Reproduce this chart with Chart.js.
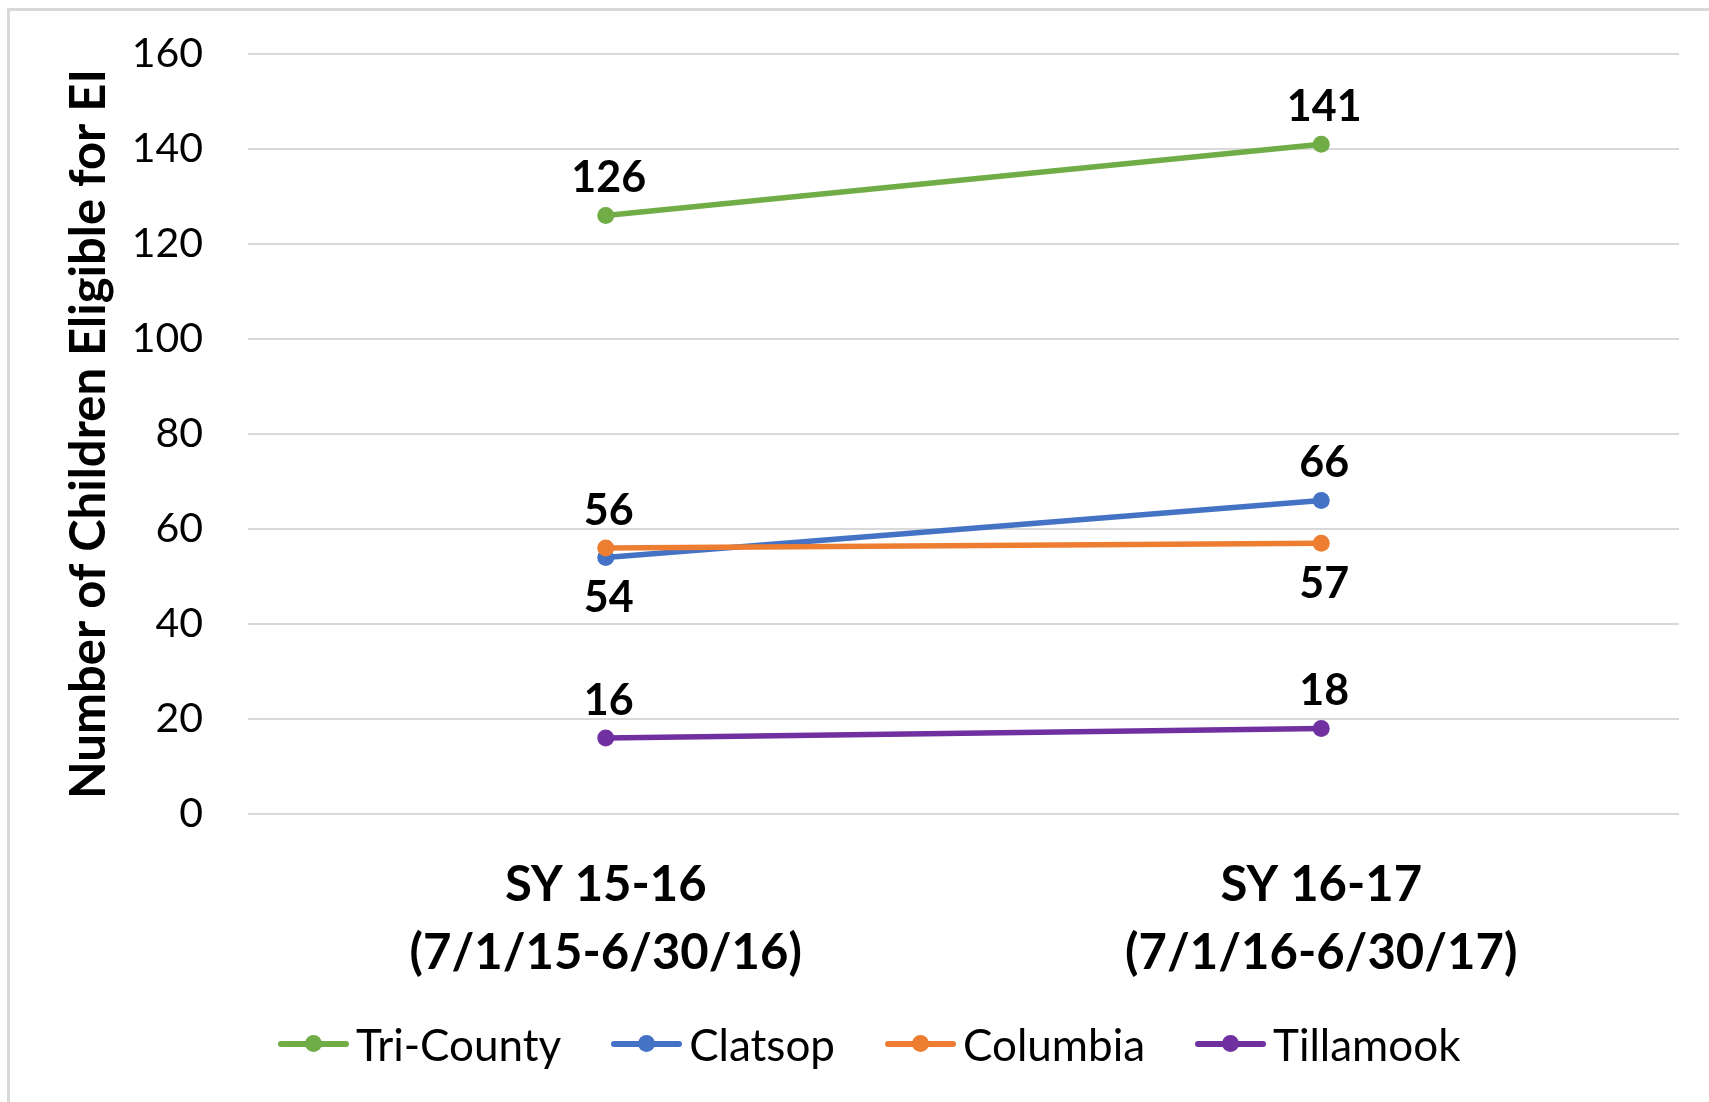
<!DOCTYPE html>
<html>
<head>
<meta charset="utf-8">
<script src="https://cdn.jsdelivr.net/npm/chart.js@4.4.1/dist/chart.umd.min.js"></script>
<style>
  html, body { margin: 0; padding: 0; background: #fff; }
  #wrap { position: relative; width: 1709px; height: 1102px; overflow: hidden; }
  #frame { position: absolute; left: 7px; top: 8px; right: -10px; bottom: -10px;
           border-top: 3px solid #d9d9d9; border-left: 3px solid #d9d9d9; }
  #legend { position: absolute; left: 278px; top: 1016px; height: 56px; display: flex; align-items: center;
            font-family: Lato, sans-serif; font-size: 44px; color: #000; }
  .item { display: flex; align-items: center; margin-right: 50px; }
  .mark { position: relative; width: 71px; height: 6px; margin-right: 7px; border-radius: 3px; }
  .mark span { position: absolute; left: 27px; top: -6px; width: 17px; height: 17px; border-radius: 50%; }
</style>
</head>
<body>
<div id="wrap">
  <div id="frame"></div>
  <canvas id="c" width="1709" height="1102"></canvas>
  <div id="legend"></div>
</div>
<script>
(function () {
  'use strict';

  var CATEGORIES = [['SY 15-16', '(7/1/15-6/30/16)'], ['SY 16-17', '(7/1/16-6/30/17)']];
  var SERIES = ['Tri-County', 'Clatsop', 'Columbia', 'Tillamook'];
  var TRI_COUNTY = [126, 141];
  var CLATSOP = [54, 66];
  var COLUMBIA = [56, 57];
  var TILLAMOOK = [16, 18];
  var Y_TICKS = [0, 20, 40, 60, 80, 100, 120, 140, 160];

  var COLORS = ['#70ad47', '#4472c4', '#ed7d31', '#7030a0'];
  // where each series puts its value labels
  var LABEL_SIDE = [['up', 'up'], ['down', 'up'], ['up', 'down'], ['up', 'up']];

  function ds(i, values, order) {
    return {
      label: SERIES[i], data: values, order: order,
      borderColor: COLORS[i], backgroundColor: COLORS[i],
      borderWidth: 5.5, pointRadius: 8.5, pointHoverRadius: 8.5,
      pointBorderWidth: 0, tension: 0
    };
  }

  var valueLabels = {
    id: 'valueLabels',
    afterDatasetsDraw: function (chart) {
      var ctx = chart.ctx;
      ctx.save();
      ctx.font = 'bold 43px Lato, sans-serif';
      ctx.fillStyle = '#000';
      ctx.textAlign = 'center';
      ctx.textBaseline = 'middle';
      chart.data.datasets.forEach(function (d, i) {
        chart.getDatasetMeta(i).data.forEach(function (pt, j) {
          var dy = LABEL_SIDE[i][j] === 'up' ? -37 : 41;
          ctx.fillText(String(d.data[j]), pt.x + 3, pt.y + dy);
        });
      });
      ctx.restore();
    }
  };

  new Chart(document.getElementById('c').getContext('2d'), {
    type: 'line',
    data: {
      labels: CATEGORIES,
      datasets: [ds(0, TRI_COUNTY, 1), ds(1, CLATSOP, 2), ds(2, COLUMBIA, 0), ds(3, TILLAMOOK, 1)]
    },
    options: {
      responsive: false, animation: false,
      layout: { padding: { top: 54, right: 30, bottom: 88, left: 0 } },
      plugins: { legend: { display: false }, tooltip: { enabled: false } },
      scales: {
        x: {
          offset: true,
          grid: { display: false, drawTicks: false },
          border: { display: false },
          ticks: { padding: 37, color: '#000', font: { family: 'Lato', size: 49, weight: 'bold', lineHeight: 1.39 } },
          afterFit: function (s) { s.height = 200; }
        },
        y: {
          min: 0, max: 160,
          afterBuildTicks: function (s) { s.ticks = Y_TICKS.map(function (v) { return { value: v }; }); },
          grid: { color: '#d9d9d9', lineWidth: 2, drawTicks: false },
          border: { display: false },
          ticks: { padding: 45, color: '#000', font: { family: 'Lato', size: 41 } },
          title: {
            display: true, text: 'Number of Children Eligible for EI', color: '#000',
            font: { family: 'Lato', size: 49, weight: 'bold', lineHeight: 1.2 },
            padding: { top: 60, bottom: 0 }
          },
          afterFit: function (s) { s.width = 248; s.paddingTop = 0; s.paddingBottom = 0; }
        }
      }
    },
    plugins: [valueLabels]
  });

  // legend: line with a dot, as in the source chart
  var legend = document.getElementById('legend');
  SERIES.forEach(function (name, i) {
    var item = document.createElement('div');
    item.className = 'item';
    item.innerHTML = '<div class="mark" style="background:' + COLORS[i] + '"><span style="background:' +
      COLORS[i] + '"></span></div>' + name;
    legend.appendChild(item);
  });
})();
</script>
</body>
</html>
